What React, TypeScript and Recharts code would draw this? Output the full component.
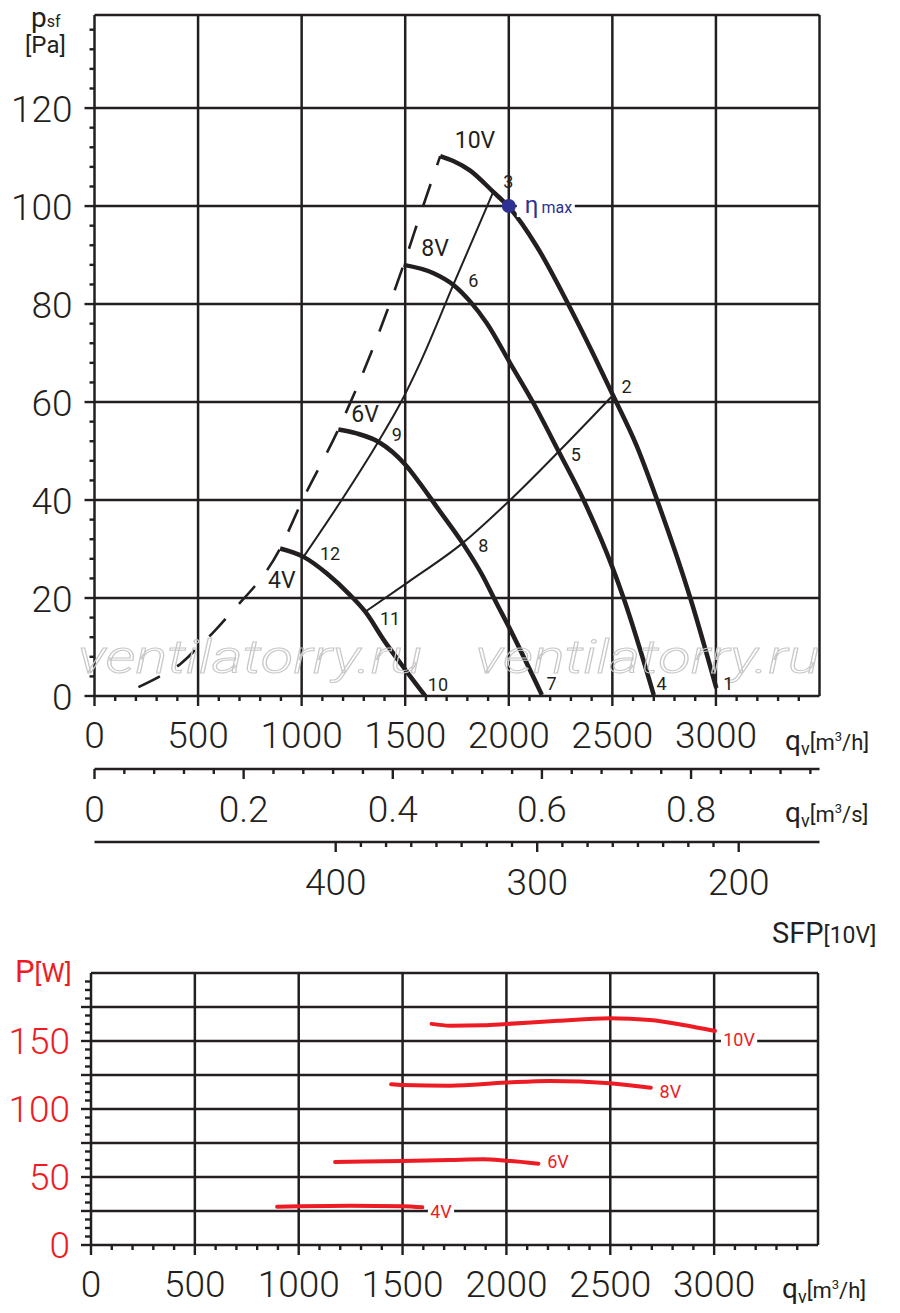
import React from 'react';
import { LineChart, Line, XAxis, YAxis, CartesianGrid, ReferenceDot } from 'recharts';

const INK = '#231f20';
const RED = '#ed1c24';
const BLUE = '#2e3192';
const GHOST = '#c8c8c8';
const FONT = 'Roboto, "DejaVu Sans", sans-serif';

// pressure curves, q [m3/h] -> p [Pa]
const fan10V = [
  { q: 1669, p: 110.2 }, { q: 1732, p: 109.2 }, { q: 1812, p: 107.3 }, { q: 1925, p: 102.9 },
  { q: 2007, p: 99.5 }, { q: 2136, p: 91.7 }, { q: 2289, p: 79.8 }, { q: 2410, p: 69.6 },
  { q: 2503, p: 61.4 }, { q: 2619, p: 50.9 }, { q: 2716, p: 40 }, { q: 2877, p: 19.9 },
  { q: 3002, p: 1.6 },
];
const fan8V = [
  { q: 1492, p: 88 }, { q: 1637, p: 86.3 }, { q: 1733, p: 83.9 }, { q: 1812, p: 80.6 },
  { q: 1894, p: 76.1 }, { q: 2007, p: 67.9 }, { q: 2120, p: 59.7 }, { q: 2241, p: 49.9 },
  { q: 2361, p: 40 }, { q: 2499, p: 26.4 }, { q: 2555, p: 19.9 }, { q: 2700, p: 0.2 },
];
const fan6V = [
  { q: 1177, p: 54.4 }, { q: 1266, p: 53.6 }, { q: 1370, p: 51.9 }, { q: 1503, p: 47.1 },
  { q: 1571, p: 43.4 }, { q: 1652, p: 38.6 }, { q: 1777, p: 31.2 }, { q: 1877, p: 24.3 },
  { q: 1933, p: 19.6 }, { q: 2004, p: 13.8 }, { q: 2160, p: 0.2 },
];
const fan4V = [
  { q: 896, p: 30.1 }, { q: 1009, p: 28.4 }, { q: 1122, p: 25 }, { q: 1234, p: 20.6 },
  { q: 1307, p: 17.2 }, { q: 1400, p: 11.2 }, { q: 1500, p: 5.4 }, { q: 1597, p: 0 },
];
// system curves through the numbered points
const systemA = [
  { q: 1009, p: 28.4 }, { q: 1193, p: 40 }, { q: 1370, p: 51.9 }, { q: 1480, p: 60 },
  { q: 1572, p: 68 }, { q: 1733, p: 84 }, { q: 1925, p: 102.9 },
];
const systemB = [
  { q: 1307, p: 17.2 }, { q: 1516, p: 23.3 }, { q: 1777, p: 31.2 }, { q: 1999, p: 39.7 },
  { q: 2241, p: 49.9 }, { q: 2503, p: 61.4 },
];
// stall limit (dashed)
const stallLine = [
  { q: 212, p: 1.8 }, { q: 316, p: 4 }, { q: 413, p: 6.5 }, { q: 494, p: 9.7 },
  { q: 569, p: 12.8 }, { q: 648, p: 16.5 }, { q: 896, p: 30.1 }, { q: 1001, p: 39.7 },
  { q: 1177, p: 54.4 }, { q: 1492, p: 88 }, { q: 1572, p: 98.2 }, { q: 1669, p: 110.2 },
];
const etaMax = { q: 2000, p: 100 };

// power curves, q [m3/h] -> P [W]
const power10V = [
  { q: 1640, w: 162.6 }, { q: 1728, w: 161.3 }, { q: 1889, w: 161.6 }, { q: 1998, w: 162.5 },
  { q: 2250, w: 164.9 }, { q: 2499, w: 166.7 }, { q: 2691, w: 165.4 }, { q: 2852, w: 161.8 },
  { q: 3004, w: 157.4 },
];
const power8V = [
  { q: 1445, w: 118.2 }, { q: 1500, w: 117.6 }, { q: 1728, w: 117.1 }, { q: 1998, w: 119.4 },
  { q: 2210, w: 120.6 }, { q: 2499, w: 118.9 }, { q: 2695, w: 115.6 },
];
const power6V = [
  { q: 1175, w: 61 }, { q: 1500, w: 61.8 }, { q: 1728, w: 62.5 }, { q: 1889, w: 63 },
  { q: 1998, w: 62 }, { q: 2154, w: 59.8 },
];
const power4V = [
  { q: 896, w: 28.2 }, { q: 1247, w: 28.9 }, { q: 1500, w: 28.5 }, { q: 1595, w: 27.7 },
];

const pointLabels = [
  { text: '1', q: 3060, p: 2.6 }, { text: '2', q: 2569, p: 63.1 }, { text: '3', q: 1998, p: 105 },
  { text: '4', q: 2738, p: 2.6 }, { text: '5', q: 2323, p: 49.2 }, { text: '6', q: 1829, p: 84.9 },
  { text: '7', q: 2207, p: 2.6 }, { text: '8', q: 1877, p: 30.8 }, { text: '9', q: 1459, p: 53.3 },
  { text: '10', q: 1658, p: 2.4 }, { text: '11', q: 1427, p: 15.9 }, { text: '12', q: 1137, p: 29.1 },
];
const speedLabels = [
  { text: '10V', q: 1837, p: 113.5 }, { text: '8V', q: 1644, p: 91.4 },
  { text: '6V', q: 1306, p: 57.7 }, { text: '4V', q: 904, p: 23.7 },
];
const powerLabels = [
  { text: '10V', q: 3120, w: 151.2 }, { text: '8V', q: 2789, w: 112.5 },
  { text: '6V', q: 2248, w: 61.2 }, { text: '4V', q: 1685, w: 24.5 },
];
const watermarks = [{ q: 751, p: 4.7 }, { q: 2670, p: 4.7 }];

const range = (from: number, to: number, step: number) => {
  const out: number[] = [];
  for (let i = 0; from + i * step <= to + 1e-9; i++) out.push(+(from + i * step).toFixed(4));
  return out;
};

const qTicks = range(0, 3400, 100);
const qLabels = [0, 500, 1000, 1500, 2000, 2500, 3000];
const qGrid = [500, 1000, 1500, 2000, 2500, 3000, 3500];
const sTicks = range(0, 0.96, 0.04);
const sLabels = [0, 0.2, 0.4, 0.6, 0.8];
const sfpTicks = range(200, 400, 12.5);
const sfpLabels = [400, 300, 200];
const pTicks = range(0, 136, 4);
const pLabels = [0, 20, 40, 60, 80, 100, 120];
const pGrid = [20, 40, 60, 80, 100, 120, 139];
const wTicks = range(0, 193.75, 6.25);
const wLabels = [0, 50, 100, 150];
const wGrid = [25, 50, 75, 100, 125, 150, 175, 200];

// invisible series so the secondary scales get their ticks
const sAnchor = sLabels.map((s) => ({ s, p: 0 }));
const sfpAnchor = sfpLabels.map((sfp) => ({ sfp, p: 0 }));

const near = (a: number, b: number) => Math.abs(a - b) < 1e-6;
const onStep = (v: number, step: number) => near(v / step, Math.round(v / step));

type TickCfg = { major: number; labels: number[]; dy: number; color?: string; short?: number };

const numStyle = { fontFamily: FONT, fontSize: 37, fontWeight: 300 } as const;

function xTick(cfg: TickCfg) {
  return (props: any) => {
    const { x, y, payload } = props;
    const v = payload.value as number;
    const len = onStep(v, cfg.major) ? 10 : cfg.short ?? 5;
    const show = cfg.labels.some((l) => near(l, v));
    return (
      <g>
        <line x1={x} x2={x} y1={y} y2={y + len} stroke={INK} strokeWidth={2.4} />
        {show && (
          <text x={x} y={y + cfg.dy} textAnchor="middle" fill={cfg.color ?? INK} {...numStyle}>
            {String(v)}
          </text>
        )}
      </g>
    );
  };
}

function yTick(cfg: TickCfg & { dx: number }) {
  return (props: any) => {
    const { x, y, payload } = props;
    const v = payload.value as number;
    const len = onStep(v, cfg.major) ? 10 : cfg.short ?? 5;
    const show = cfg.labels.some((l) => near(l, v));
    return (
      <g>
        <line x1={x - len} x2={x} y1={y} y2={y} stroke={INK} strokeWidth={2.4} />
        {show && (
          <text x={x - cfg.dx} y={y + cfg.dy} textAnchor="end" fill={cfg.color ?? INK} {...numStyle}>
            {String(v)}
          </text>
        )}
      </g>
    );
  };
}

const textShape = (text: string, size: number, color: string, bg = false) => (props: any) => {
  const w = text.length * size * 0.56 + 6;
  return (
    <g>
      {bg && <rect x={props.cx - w / 2} y={props.cy - size * 0.45} width={w} height={size * 0.9} fill="#fff" />}
      <text x={props.cx} y={props.cy + size * 0.36} textAnchor="middle" fill={color} fontFamily={FONT} fontSize={size}>
        {text}
      </text>
    </g>
  );
};

const etaShape = (props: any) => (
  <g>
    <rect x={props.cx + 8} y={props.cy - 11} width={58} height={22} fill="#fff" />
    <text x={props.cx + 16} y={props.cy + 7} fill={BLUE} fontFamily={FONT}>
      <tspan fontSize={24}>η</tspan>
      <tspan fontSize={16} dx={3}>max</tspan>
    </text>
  </g>
);

const markShape = (props: any) => (
  <text
    x={props.cx}
    y={props.cy}
    textAnchor="middle"
    textLength={344}
    lengthAdjust="spacingAndGlyphs"
    fontFamily={FONT}
    fontStyle="italic"
    fontWeight={300}
    fontSize={46}
    fill="none"
    stroke={GHOST}
    strokeWidth={1}
  >
    ventilatorry.ru
  </text>
);

const axisLine = { stroke: INK, strokeWidth: 2.5 };

function PressureChart() {
  return (
    <LineChart width={900} height={960} margin={{ top: 15, right: 80.5, bottom: 18, left: 34.5 }}>
      <CartesianGrid stroke={INK} strokeWidth={2.5} horizontalValues={pGrid} verticalValues={qGrid} />
      <XAxis
        dataKey="q"
        type="number"
        domain={[0, 3500]}
        allowDataOverflow
        ticks={qTicks}
        interval={0}
        height={73}
        tickSize={0}
        tickMargin={0}
        tickLine={false}
        axisLine={axisLine}
        tick={xTick({ major: 500, labels: qLabels, dy: 52 })}
      />
      <XAxis
        xAxisId="s"
        dataKey="s"
        type="number"
        domain={[0, 3500 / 3600]}
        allowDataOverflow
        ticks={sTicks}
        interval={0}
        height={73}
        tickSize={0}
        tickMargin={0}
        tickLine={false}
        axisLine={axisLine}
        tick={xTick({ major: 0.2, labels: sLabels, dy: 53 })}
      />
      <XAxis
        xAxisId="sfp"
        dataKey="sfp"
        type="number"
        domain={[159.9, 519.7]}
        reversed
        allowDataOverflow
        ticks={sfpTicks}
        interval={0}
        height={100}
        tickSize={0}
        tickMargin={0}
        tickLine={false}
        axisLine={axisLine}
        tick={xTick({ major: 100, labels: sfpLabels, dy: 53 })}
      />
      <YAxis
        type="number"
        domain={[0, 139]}
        allowDataOverflow
        ticks={pTicks}
        interval={0}
        width={60}
        tickSize={0}
        tickMargin={0}
        tickLine={false}
        axisLine={axisLine}
        tick={yTick({ major: 20, labels: pLabels, dy: 13.5, dx: 22 })}
      />
      {watermarks.map((m, i) => (
        <ReferenceDot key={`wm${i}`} x={m.q} y={m.p} r={0} shape={markShape} ifOverflow="visible" />
      ))}
      <Line xAxisId="s" data={sAnchor} dataKey="p" stroke="none" dot={false} isAnimationActive={false} />
      <Line xAxisId="sfp" data={sfpAnchor} dataKey="p" stroke="none" dot={false} isAnimationActive={false} />
      <Line data={stallLine} dataKey="p" type="monotone" stroke={INK} strokeWidth={2.6} strokeDasharray="24 20" dot={false} isAnimationActive={false} />
      <Line data={systemA} dataKey="p" type="monotone" stroke={INK} strokeWidth={2} dot={false} isAnimationActive={false} />
      <Line data={systemB} dataKey="p" type="monotone" stroke={INK} strokeWidth={2} dot={false} isAnimationActive={false} />
      <Line data={fan10V} dataKey="p" type="monotone" stroke={INK} strokeWidth={4.5} dot={false} isAnimationActive={false} />
      <Line data={fan8V} dataKey="p" type="monotone" stroke={INK} strokeWidth={4.5} dot={false} isAnimationActive={false} />
      <Line data={fan6V} dataKey="p" type="monotone" stroke={INK} strokeWidth={4.5} dot={false} isAnimationActive={false} />
      <Line data={fan4V} dataKey="p" type="monotone" stroke={INK} strokeWidth={4.5} dot={false} isAnimationActive={false} />
      {pointLabels.map((l) => (
        <ReferenceDot key={`n${l.text}`} x={l.q} y={l.p} r={0} shape={textShape(l.text, 18, INK)} ifOverflow="visible" />
      ))}
      {speedLabels.map((l) => (
        <ReferenceDot key={`s${l.text}`} x={l.q} y={l.p} r={0} shape={textShape(l.text, 23, INK)} ifOverflow="visible" />
      ))}
      <ReferenceDot x={etaMax.q} y={etaMax.p} r={0} shape={etaShape} />
      <ReferenceDot x={etaMax.q} y={etaMax.p} r={7} fill={BLUE} stroke="none" />
    </LineChart>
  );
}

function PowerChart() {
  return (
    <LineChart width={900} height={363} margin={{ top: 23, right: 82, bottom: 8, left: 31 }}>
      <CartesianGrid stroke={INK} strokeWidth={2.5} horizontalValues={wGrid} verticalValues={qGrid} />
      <XAxis
        dataKey="q"
        type="number"
        domain={[0, 3500]}
        allowDataOverflow
        ticks={qTicks}
        interval={0}
        height={60}
        tickSize={0}
        tickMargin={0}
        tickLine={false}
        axisLine={axisLine}
        tick={xTick({ major: 500, labels: qLabels, dy: 52 })}
      />
      <YAxis
        type="number"
        domain={[0, 200]}
        allowDataOverflow
        ticks={wTicks}
        interval={0}
        width={60}
        tickSize={0}
        tickMargin={0}
        tickLine={false}
        axisLine={axisLine}
        tick={yTick({ major: 25, labels: wLabels, dy: 13, dx: 21, color: RED, short: 6 })}
      />
      <Line data={power10V} dataKey="w" type="monotone" stroke={RED} strokeWidth={4} strokeLinecap="round" dot={false} isAnimationActive={false} />
      <Line data={power8V} dataKey="w" type="monotone" stroke={RED} strokeWidth={4} strokeLinecap="round" dot={false} isAnimationActive={false} />
      <Line data={power6V} dataKey="w" type="monotone" stroke={RED} strokeWidth={4} strokeLinecap="round" dot={false} isAnimationActive={false} />
      <Line data={power4V} dataKey="w" type="monotone" stroke={RED} strokeWidth={4} strokeLinecap="round" dot={false} isAnimationActive={false} />
      {powerLabels.map((l) => (
        <ReferenceDot key={`p${l.text}`} x={l.q} y={l.w} r={0} shape={textShape(l.text, 18, RED, true)} ifOverflow="visible" />
      ))}
    </LineChart>
  );
}

const unitText = { fontFamily: FONT, fill: INK } as const;

function Titles() {
  return (
    <svg width={900} height={1313} style={{ position: 'absolute', left: 0, top: 0, pointerEvents: 'none' }}>
      <text x={31} y={27} {...unitText}>
        <tspan fontSize={28}>p</tspan>
        <tspan fontSize={16}>sf</tspan>
      </text>
      <text x={25} y={53} fontSize={24} {...unitText}>[Pa]</text>
      <text x={785} y={750} {...unitText}>
        <tspan fontSize={28}>q</tspan>
        <tspan fontSize={18} dy={5}>v</tspan>
        <tspan fontSize={22} dy={-5}>[m</tspan>
        <tspan fontSize={13} dy={-9}>3</tspan>
        <tspan fontSize={22} dy={9}>/h]</tspan>
      </text>
      <text x={785} y={822} {...unitText}>
        <tspan fontSize={28}>q</tspan>
        <tspan fontSize={18} dy={5}>v</tspan>
        <tspan fontSize={22} dy={-5}>[m</tspan>
        <tspan fontSize={13} dy={-9}>3</tspan>
        <tspan fontSize={22} dy={9}>/s]</tspan>
      </text>
      <text x={772} y={943} {...unitText}>
        <tspan fontSize={29}>SFP</tspan>
        <tspan fontSize={23}>[10V]</tspan>
      </text>
      <text x={15} y={982} fontFamily={FONT} fill={RED}>
        <tspan fontSize={31}>P</tspan>
        <tspan fontSize={26}>[W]</tspan>
      </text>
      <text x={782} y={1298} {...unitText}>
        <tspan fontSize={28}>q</tspan>
        <tspan fontSize={18} dy={5}>v</tspan>
        <tspan fontSize={22} dy={-5}>[m</tspan>
        <tspan fontSize={13} dy={-9}>3</tspan>
        <tspan fontSize={22} dy={9}>/h]</tspan>
      </text>
    </svg>
  );
}

export default function App() {
  return (
    <div style={{ position: 'absolute', left: 0, top: 0, width: 900, height: 1313, background: '#fff' }}>
      <div style={{ position: 'absolute', left: 0, top: 0 }}>
        <PressureChart />
      </div>
      <div style={{ position: 'absolute', left: 0, top: 950 }}>
        <PowerChart />
      </div>
      <Titles />
    </div>
  );
}
